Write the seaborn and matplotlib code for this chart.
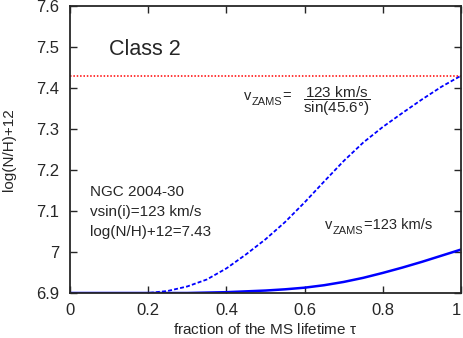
import numpy as np
import pandas as pd
import matplotlib
matplotlib.use("Agg")
import matplotlib.pyplot as plt
import seaborn as sns

# fraction of MS lifetime
tau = [0.0, 0.05, 0.1, 0.15, 0.2, 0.25, 0.3, 0.35, 0.4, 0.45, 0.5,
       0.55, 0.6, 0.65, 0.7, 0.75, 0.8, 0.85, 0.9, 0.95, 1.0]
# log(N/H)+12 for v_ZAMS = 123/sin(45.6) km/s (dashed)
n_fast = [6.9, 6.9, 6.9, 6.9, 6.900, 6.905, 6.916, 6.933, 6.960, 6.994, 7.031,
          7.073, 7.121, 7.172, 7.222, 7.267, 7.305, 7.339, 7.372, 7.403, 7.43]
# log(N/H)+12 for v_ZAMS = 123 km/s (solid)
n_slow = [6.9, 6.9, 6.9, 6.9, 6.9, 6.9, 6.9, 6.901, 6.902, 6.904, 6.906,
          6.909, 6.913, 6.919, 6.927, 6.937, 6.949, 6.962, 6.976, 6.991, 7.006]
observed = 7.43

sns.set_style("ticks")
plt.rcParams['font.family'] = ['Liberation Sans', 'DejaVu Sans']
plt.rcParams['mathtext.fontset'] = 'custom'
plt.rcParams['mathtext.rm'] = 'Liberation Sans'
plt.rcParams['mathtext.it'] = 'Liberation Sans'

df = pd.DataFrame({'tau': tau, 'fast': n_fast, 'slow': n_slow})

fig = plt.figure(figsize=(4.64, 3.38), dpi=100)
ax = fig.add_axes([70 / 464, 1 - 293 / 338, 391 / 464, 287 / 338])

sns.lineplot(data=df, x='tau', y='fast', ax=ax, color='#0000ff', lw=1.3,
             linestyle=(0, (2.2, 1.2)))
sns.lineplot(data=df, x='tau', y='slow', ax=ax, color='#0000ff', lw=1.8)
ax.axhline(observed, color='#ff0000', lw=1.1, linestyle=(0, (1, 1.2)))

ax.set_xlim(0, 1)
ax.set_ylim(6.9, 7.6)
ax.set_xticks([0, 0.2, 0.4, 0.6, 0.8, 1])
ax.set_xticklabels(['0', '0.2', '0.4', '0.6', '0.8', '1'])
ax.get_xticklabels()[-1].set_ha('right')
ax.set_yticks([6.9, 7.0, 7.1, 7.2, 7.3, 7.4, 7.5, 7.6])
ax.set_yticklabels(['6.9', '7', '7.1', '7.2', '7.3', '7.4', '7.5', '7.6'])
ax.tick_params(direction='in', top=True, right=True, length=5, width=1,
               labelsize=12)
ax.tick_params(axis='x', pad=7)
ax.tick_params(axis='y', pad=8)
for s in ax.spines.values():
    s.set_linewidth(1.3)

ax.set_xlabel(r'fraction of the MS lifetime $\mathregular{\tau}$', fontsize=11, labelpad=3)
ax.set_ylabel('log(N/H)+12', fontsize=11, labelpad=14)

ax.text(0.1, 7.48, 'Class 2', fontsize=15.5, va='baseline')
ax.text(0.05, 7.137, 'NGC 2004-30', fontsize=11, va='baseline')
ax.text(0.05, 7.088, 'vsin(i)=123 km/s', fontsize=11, va='baseline')
ax.text(0.05, 7.039, 'log(N/H)+12=7.43', fontsize=11, va='baseline')
ax.text(0.683, 7.367, r'$\mathregular{\dfrac{123\ km/s}{sin(45.6°)}}$', fontsize=11,
        ha='center', va='center')

fig.canvas.draw()
renderer = fig.canvas.get_renderer()


def zams_label(x, y, tail, size=10.5):
    # "v" with a large ZAMS subscript, then the rest of the label
    t1 = ax.text(x, y, 'v', fontsize=size, va='baseline')
    w1 = t1.get_window_extent(renderer).width * 72 / fig.dpi
    t2 = ax.annotate('ZAMS', xy=(x, y), xytext=(w1 + 0.3, -3.6),
                     textcoords='offset points', fontsize=size * 0.75, va='baseline')
    w2 = t2.get_window_extent(renderer).width * 72 / fig.dpi
    ax.annotate(tail, xy=(x, y), xytext=(w1 + w2 + 0.5, 0),
                textcoords='offset points', fontsize=size, va='baseline')


zams_label(0.445, 7.371, '=')
zams_label(0.652, 7.055, '=123 km/s')

fig.savefig('out.png', dpi=100)
